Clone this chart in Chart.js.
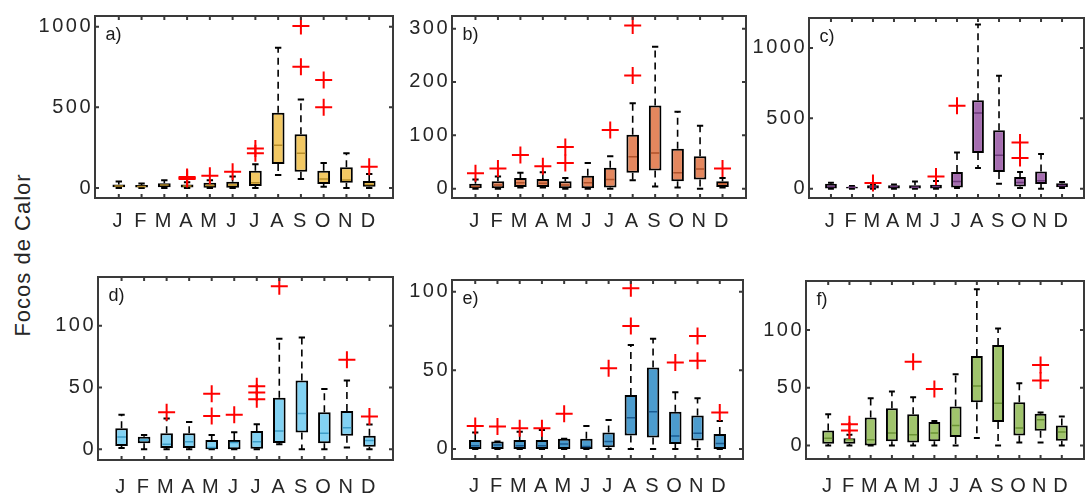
<!DOCTYPE html>
<html>
<head>
<meta charset="utf-8">
<script src="https://cdn.jsdelivr.net/npm/chart.js@4.4.0/dist/chart.umd.min.js"></script>
<style>
html, body { margin: 0; padding: 0; background: #fff; }
#wrap { position: relative; width: 1086px; height: 493px; overflow: hidden; }
.panel { position: absolute; }
#ylabel { position: absolute; left: 23px; top: 255px; transform: translate(-50%, -50%) rotate(-90deg); font: 22px "Liberation Sans", Arial, sans-serif; color: #262626; white-space: nowrap; letter-spacing: 1px; }
</style>
</head>
<body>
<div id="wrap"><div id="ylabel">Focos de Calor</div></div>
<script>
const months = ['J', 'F', 'M', 'A', 'M', 'J', 'J', 'A', 'S', 'O', 'N', 'D'];

// a)
const aLow  = [0, 0, 0, 0, 0, 0, 0, 81, 56, 8, 0, 0];
const aQ1   = [5, 3, 4, 3, 2, 2, 12, 149, 101, 25, 33, 8];
const aMed  = [12, 10, 18, 12, 15, 18, 33, 265, 215, 56, 50, 22];
const aQ3   = [22, 18, 30, 22, 33, 39, 107, 467, 333, 107, 128, 43];
const aHigh = [40, 28, 48, 35, 48, 72, 147, 869, 549, 155, 215, 87];
const aOutMonth = [4, 4, 4, 5, 6, 7, 7, 9, 9, 10, 10, 12];
const aOutVal   = [56, 62, 68, 76, 101, 215, 245, 752, 1004, 500, 669, 132];
const aTicks = [0, 500, 1000];

// b)
const bLow  = [0, 0, 2, 2, 0, 0, 0, 16, 4, 2, 0, 2];
const bQ1   = [1, 1, 3, 3, 1, 1, 2, 30, 34, 14, 17, 3];
const bMed  = [4, 7, 11, 10, 7, 11, 17, 60, 67, 30, 37, 9];
const bQ3   = [9, 14, 20, 18, 14, 24, 39, 101, 156, 75, 61, 14];
const bHigh = [17, 23, 30, 31, 20, 48, 61, 160, 266, 144, 118, 20];
const bOutMonth = [1, 2, 3, 4, 5, 5, 7, 8, 8, 12];
const bOutVal   = [29, 38, 63, 42, 48, 78, 110, 212, 306, 38];
const bTicks = [0, 100, 200, 300];

// c)
const cLow  = [0, 0, 0, 0, 0, 0, 5, 147, 35, 5, 0, 5];
const cQ1   = [2, 1, 2, 2, 2, 2, 8, 254, 118, 16, 33, 10];
const cMed  = [16, 10, 12, 15, 10, 15, 52, 538, 237, 45, 57, 22];
const cQ3   = [35, 14, 24, 24, 24, 28, 118, 628, 415, 83, 123, 38];
const cHigh = [42, 20, 30, 30, 52, 55, 258, 1166, 803, 118, 246, 48];
const cOutMonth = [3, 6, 7, 10, 10];
const cOutVal   = [40, 87, 590, 218, 329];
const cTicks = [0, 500, 1000];

// d)
const dLow  = [1, 0, 0, 0, 0, 0, 0, 4, 0, 0, 1.5, 0];
const dQ1   = [2.7, 4.9, 1, 1, 0, 0, 0.5, 5, 13.5, 4.9, 11, 2];
const dMed  = [10, 7.5, 4, 6, 1.5, 5.5, 6, 14.8, 29, 13, 17.5, 7];
const dQ3   = [17, 10.2, 13, 13, 7.5, 7.5, 14.8, 41.8, 55.7, 30, 31, 11];
const dHigh = [28, 11.5, 25, 22, 11.6, 13.8, 20.3, 89.5, 90.5, 48.7, 55.7, 20];
const dOutMonth = [3, 5, 5, 6, 7, 7, 7, 8, 11, 12];
const dOutVal   = [30, 27, 45, 28, 40.5, 46, 51, 132, 72.4, 26.5];
const dTicks = [0, 50, 100];

// e)
const eLow  = [0, 0, 0, 0, 0, 0, 0, 0, 0, 0, 0, 0];
const eQ1   = [0, 0, 0, 0, 0, 0, 1, 8.5, 7.2, 3.2, 5.3, 0];
const eMed  = [2, 2.5, 2, 2, 3.2, 1.5, 4.7, 19.9, 23.7, 8.3, 10, 3.5];
const eQ3   = [5.7, 4.7, 5.7, 5.7, 6.4, 6.4, 10.4, 34.3, 51.7, 23.7, 21.2, 9.5];
const eHigh = [10.4, 4.7, 11, 12, 6.4, 14.6, 18.4, 66, 70, 36, 32.2, 17.8];
const eOutMonth = [1, 2, 3, 4, 5, 7, 8, 8, 10, 11, 11, 12];
const eOutVal   = [14.6, 14.2, 13.1, 13.1, 22.3, 51.3, 78.2, 102.2, 54.9, 56, 71.8, 23.1];
const eTicks = [0, 50, 100];

// f)
const fLow  = [0, 0, 0, 0, 0, 0, 0, 6.4, 0, 2.6, 2.6, 0];
const fQ1   = [1.5, 1.5, 0, 3.5, 2.6, 3.5, 7.2, 37.5, 20.2, 8.6, 12.7, 4];
const fMed  = [6.3, 4.9, 4.9, 10.7, 9.3, 10.7, 17.3, 51.6, 36.6, 15, 22.2, 11.6];
const fQ3   = [13, 6.3, 24.2, 32.3, 27.1, 20.2, 33.7, 77.5, 87, 37.5, 27.4, 17.3];
const fHigh = [27, 9.3, 41, 46.7, 41.8, 21.2, 61.7, 135.4, 101.5, 53.9, 28.5, 25];
const fOutMonth = [2, 2, 5, 6, 11, 11];
const fOutVal   = [13, 18.4, 72.6, 49, 56.2, 69.7];
const fTicks = [0, 50, 100];

const AX_W = 80, AX_H = 45, PAD = 20;
const FONT = '"Liberation Sans", Arial, sans-serif';
const TXT = '#262626';

const panels = [
  { tag: 'a)', low: aLow, q1: aQ1, med: aMed, q3: aQ3, high: aHigh, outM: aOutMonth, outV: aOutVal, ticks: aTicks,
    fill: '#F2C863', medColor: '#B88E2A', area: { l: 95, t: 16, r: 393, b: 198 }, ymin: -62, ymax: 1066, xPad: 11 },
  { tag: 'b)', low: bLow, q1: bQ1, med: bMed, q3: bQ3, high: bHigh, outM: bOutMonth, outV: bOutVal, ticks: bTicks,
    fill: '#E4875E', medColor: '#B0532B', area: { l: 452, t: 16, r: 746, b: 198 }, ymin: -17.5, ymax: 323.7, xPad: 11 },
  { tag: 'c)', low: cLow, q1: cQ1, med: cMed, q3: cQ3, high: cHigh, outM: cOutMonth, outV: cOutVal, ticks: cTicks,
    fill: '#A56DB0', medColor: '#6E3A7C', area: { l: 809, t: 18, r: 1084, b: 198 }, ymin: -66, ymax: 1213, xPad: 11 },
  { tag: 'd)', low: dLow, q1: dQ1, med: dMed, q3: dQ3, high: dHigh, outM: dOutMonth, outV: dOutVal, ticks: dTicks,
    fill: '#82D2F3', medColor: '#3E9DC8', area: { l: 98, t: 277, r: 393, b: 460 }, ymin: -8.7, ymax: 139.5, xPad: 15 },
  { tag: 'e)', low: eLow, q1: eQ1, med: eMed, q3: eQ3, high: eHigh, outM: eOutMonth, outV: eOutVal, ticks: eTicks,
    fill: '#4C9CCE', medColor: '#1B5C93', area: { l: 452, t: 280, r: 743, b: 459 }, ymin: -6.4, ymax: 107.4, xPad: 15 },
  { tag: 'f)', low: fLow, q1: fQ1, med: fMed, q3: fQ3, high: fHigh, outM: fOutMonth, outV: fOutVal, ticks: fTicks,
    fill: '#A0C46C', medColor: '#6A9334', area: { l: 806, t: 281, r: 1084, b: 459 }, ymin: -11.8, ymax: 142.6, xPad: 15 }
];

const boxPlugin = {
  id: 'boxParts',
  beforeDraw(chart) {
    chart.ctx.letterSpacing = '2.5px';
  },
  beforeDatasetsDraw(chart) {
    const p = chart.options.plugins.boxParts.panel;
    const xs = chart.scales.x, ys = chart.scales.y;
    const bars = chart.getDatasetMeta(1).data;
    const ctx = chart.ctx;
    ctx.save();
    ctx.strokeStyle = '#000';
    for (let i = 0; i < months.length; i++) {
      const x = xs.getPixelForValue(i + 1);
      const half = bars[i].width / 4;
      const yHi = ys.getPixelForValue(p.high[i]), yQ3 = ys.getPixelForValue(p.q3[i]);
      const yLo = ys.getPixelForValue(p.low[i]), yQ1 = ys.getPixelForValue(p.q1[i]);
      ctx.lineWidth = 1.6;
      ctx.setLineDash([7, 5]);
      ctx.beginPath();
      ctx.moveTo(x, yQ3); ctx.lineTo(x, yHi);
      ctx.moveTo(x, yQ1); ctx.lineTo(x, yLo);
      ctx.stroke();
      ctx.setLineDash([]);
      ctx.lineWidth = 2;
      ctx.beginPath();
      ctx.moveTo(x - half, yHi); ctx.lineTo(x + half, yHi);
      ctx.moveTo(x - half, yLo); ctx.lineTo(x + half, yLo);
      ctx.stroke();
    }
    ctx.restore();
  },
  afterDatasetDraw(chart, args) {
    if (args.index !== 1) return;
    const p = chart.options.plugins.boxParts.panel;
    const ys = chart.scales.y;
    const bars = chart.getDatasetMeta(1).data;
    const ctx = chart.ctx;
    ctx.save();
    ctx.strokeStyle = p.medColor;
    ctx.lineWidth = 1.5;
    ctx.beginPath();
    for (let i = 0; i < months.length; i++) {
      const b = bars[i];
      const y = ys.getPixelForValue(p.med[i]);
      ctx.moveTo(b.x - b.width / 2 + 2, y);
      ctx.lineTo(b.x + b.width / 2 - 2, y);
    }
    ctx.stroke();
    ctx.restore();
  },
  afterDraw(chart) {
    const p = chart.options.plugins.boxParts.panel;
    const ca = chart.chartArea;
    const xs = chart.scales.x, ys = chart.scales.y;
    const ctx = chart.ctx;
    ctx.save();
    ctx.strokeStyle = '#3a3a3a';
    ctx.lineWidth = 2;
    ctx.strokeRect(ca.left, ca.top, ca.right - ca.left, ca.bottom - ca.top);
    ctx.beginPath();
    for (let i = 0; i < months.length; i++) {
      const x = xs.getPixelForValue(i + 1);
      ctx.moveTo(x, ca.bottom); ctx.lineTo(x, ca.bottom - 4);
      ctx.moveTo(x, ca.top); ctx.lineTo(x, ca.top + 4);
    }
    p.ticks.forEach(function(v) {
      const y = ys.getPixelForValue(v);
      ctx.moveTo(ca.left, y); ctx.lineTo(ca.left + 4, y);
      ctx.moveTo(ca.right, y); ctx.lineTo(ca.right - 4, y);
    });
    ctx.stroke();
    ctx.letterSpacing = '0px';
    ctx.fillStyle = '#1a1a1a';
    ctx.font = '18px ' + FONT;
    ctx.textBaseline = 'alphabetic';
    ctx.textAlign = 'left';
    ctx.fillText(p.tag, ca.left + 10.5, ca.top + 24);
    ctx.restore();
  }
};

function makePanel(p) {
  const x0 = p.area.l - AX_W, y0 = p.area.t - PAD;
  const w = p.area.r - x0 + PAD, h = p.area.b - y0 + AX_H;
  const div = document.createElement('div');
  div.className = 'panel';
  div.style.left = x0 + 'px';
  div.style.top = y0 + 'px';
  div.style.width = w + 'px';
  div.style.height = h + 'px';
  const cv = document.createElement('canvas');
  div.appendChild(cv);
  document.getElementById('wrap').appendChild(div);

  const outliers = p.outM.map(function(m, i) { return { x: m, y: p.outV[i] }; });
  const boxes = p.q1.map(function(v, i) { return { x: i + 1, y: [v, p.q3[i]] }; });

  new Chart(cv, {
    type: 'bar',
    data: {
      datasets: [
        { type: 'line', data: outliers, showLine: false, pointStyle: 'cross', pointRadius: 8.5,
          pointBorderColor: '#ff0000', pointBackgroundColor: '#ff0000', pointBorderWidth: 2 },
        { type: 'bar', data: boxes, backgroundColor: p.fill, borderColor: '#000', borderWidth: 2,
          borderSkipped: false, barPercentage: 0.56, categoryPercentage: 1 }
      ]
    },
    options: {
      responsive: true, maintainAspectRatio: false, animation: false, events: [],
      layout: { padding: { top: PAD, right: PAD, left: 0, bottom: 0 } },
      plugins: { legend: { display: false }, tooltip: { enabled: false }, boxParts: { panel: p } },
      scales: {
        x: {
          type: 'linear', min: 0.5, max: 12.5,
          grid: { display: false, drawTicks: false }, border: { display: false },
          afterBuildTicks: function(s) { s.ticks = months.map(function(m, i) { return { value: i + 1 }; }); },
          ticks: { autoSkip: false, maxRotation: 0, padding: p.xPad, color: TXT, font: { family: FONT, size: 20 },
            callback: function(v, i) { return months[i]; } },
          afterFit: function(s) { s.height = AX_H; }
        },
        y: {
          min: p.ymin, max: p.ymax,
          grid: { display: false, drawTicks: false }, border: { display: false },
          afterBuildTicks: function(s) { s.ticks = p.ticks.map(function(v) { return { value: v }; }); },
          ticks: { padding: 2, color: TXT, font: { family: FONT, size: 20 },
            callback: function(v) { return String(v); } },
          afterFit: function(s) { s.width = AX_W; }
        }
      }
    },
    plugins: [boxPlugin]
  });
}

panels.forEach(makePanel);
</script>
</body>
</html>
